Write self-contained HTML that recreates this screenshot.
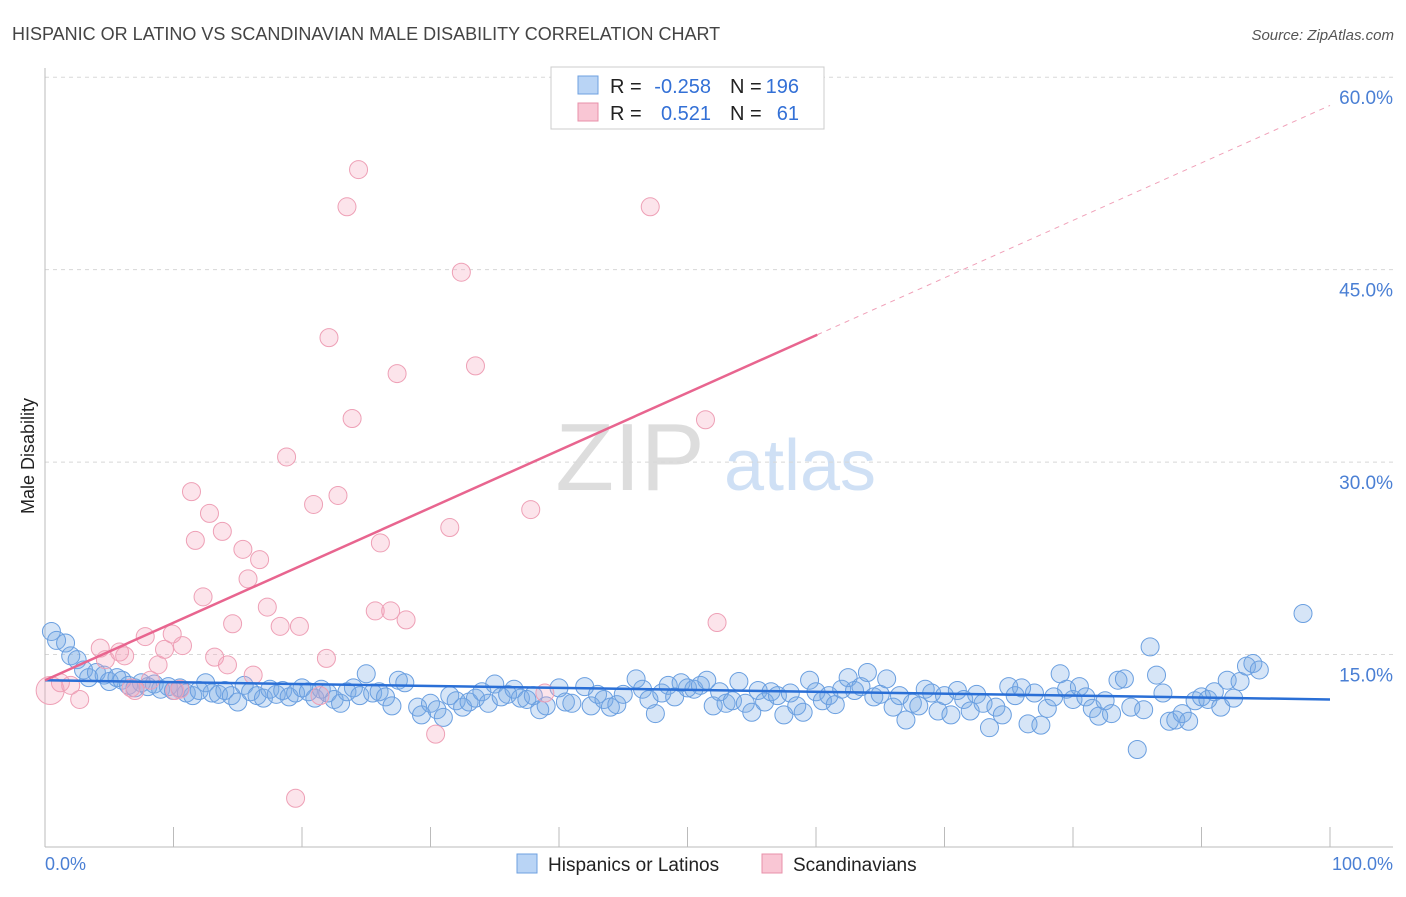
<!DOCTYPE html>
<html><head><meta charset="utf-8"><style>
body{margin:0;background:#fff;font-family:"Liberation Sans",sans-serif;}
svg text{font-family:"Liberation Sans",sans-serif;}
</style></head><body>
<svg id="chart" width="1406" height="892" xmlns="http://www.w3.org/2000/svg">
<text x="12" y="40" font-size="18" fill="#444">HISPANIC OR LATINO VS SCANDINAVIAN MALE DISABILITY CORRELATION CHART</text>
<text x="1394" y="40" font-size="15" fill="#555" text-anchor="end" font-style="italic">Source: ZipAtlas.com</text>
<text x="630" y="490" font-size="96" fill="#ddd" text-anchor="middle" font-family="Liberation Serif,serif">ZIP</text>
<text x="800" y="490" font-size="72" fill="#cfe0f5" text-anchor="middle">atlas</text>
<g id="grid"></g>
<g id="axes"></g>
<g id="pts"></g>
<g id="trends"></g>
<text transform="translate(34,456) rotate(-90)" font-size="18" fill="#222" text-anchor="middle">Male Disability</text>
<text x="45" y="870" font-size="18" fill="#4a7fd4">0.0%</text>
<text x="1393" y="870" font-size="18" fill="#4a7fd4" text-anchor="end">100.0%</text>
<g>
<rect x="551" y="67" width="273" height="62" fill="#fff" stroke="#ccc"/>
<rect x="578" y="76" width="20" height="18" fill="#b9d4f5" stroke="#6ea0e0"/>
<rect x="578" y="103" width="20" height="18" fill="#f9c6d4" stroke="#e890aa"/>
<text x="610" y="93" font-size="20" fill="#222">R =</text>
<text x="711" y="93" font-size="20" fill="#3370d6" text-anchor="end">-0.258</text>
<text x="730" y="93" font-size="20" fill="#222">N =</text>
<text x="799" y="93" font-size="20" fill="#3370d6" text-anchor="end">196</text>
<text x="610" y="120" font-size="20" fill="#222">R =</text>
<text x="711" y="120" font-size="20" fill="#3370d6" text-anchor="end">0.521</text>
<text x="730" y="120" font-size="20" fill="#222">N =</text>
<text x="799" y="120" font-size="20" fill="#3370d6" text-anchor="end">61</text>
</g>
<g>
<rect x="517" y="854" width="20" height="19" fill="#b9d4f5" stroke="#6ea0e0"/>
<text x="548" y="871" font-size="19" fill="#222">Hispanics or Latinos</text>
<rect x="762" y="854" width="20" height="19" fill="#f9c6d4" stroke="#e890aa"/>
<text x="793" y="871" font-size="19" fill="#222">Scandinavians</text>
</g>
</svg>
<script>
const yTicks=[15,30,45,60];
const yTickLabels=["15.0%","30.0%","45.0%","60.0%"];
const xTicks=[0,10,20,30,40,50,60,70,80,90,100];
const blueX=[0.5,0.9,1.6,2,2.5,3,3.4,4,4.6,5,5.6,6,6.5,7,7.5,8,8.5,9,9.6,10,10.5,11,11.5,12,12.5,13,13.5,14,14.5,15,15.5,16,16.5,17,17.5,18,18.5,19,19.5,20,20.5,21,21.5,22,22.5,23,23.5,24,24.5,25,25.5,26,26.5,27,27.5,28,29,29.3,30,30.5,31,31.5,32,32.5,33,33.5,34,34.5,35,35.5,36,36.5,37,37.5,38,38.5,39,40,40.5,41,42,42.5,43,43.5,44,44.5,45,46,46.5,47,47.5,48,48.5,49,49.5,50,50.5,51,51.5,52,52.5,53,53.5,54,54.5,55,55.5,56,56.5,57,57.5,58,58.5,59,59.5,60,60.5,61,61.5,62,62.5,63,63.5,64,64.5,65,65.5,66,66.5,67,67.5,68,68.5,69,69.5,70,70.5,71,71.5,72,72.5,73,73.5,74,74.5,75,75.5,76,76.5,77,77.5,78,78.5,79,79.5,80,80.5,81,81.5,82,82.5,83,83.5,84,84.5,85,85.5,86,86.5,87,87.5,88,88.5,89,89.5,90,90.5,91,91.5,92,92.5,93,93.5,94,94.5,97.9];
const blueY=[16.8,16.1,15.9,14.9,14.6,13.8,13.2,13.6,13.4,12.9,13.2,13.0,12.6,12.4,12.8,12.5,12.7,12.3,12.5,12.2,12.4,12,11.8,12.2,12.8,12,11.9,12.2,11.8,11.3,12.6,12.1,11.8,11.6,12.3,11.9,12.2,11.7,12,12.4,12.1,11.6,12.3,12.0,11.5,11.2,12.1,12.4,11.8,13.5,12.0,12.1,11.7,11.0,13,12.8,10.9,10.3,11.2,10.7,10.1,11.8,11.4,10.9,11.3,11.6,12.1,11.2,12.7,11.7,11.9,12.3,11.6,11.5,11.8,10.7,11,12.4,11.3,11.2,12.5,11.0,11.9,11.5,10.9,11.1,11.9,13.1,12.3,11.5,10.4,12.0,12.6,11.7,12.8,12.4,12.3,12.6,13.0,11.0,12.1,11.2,11.4,12.9,11.2,10.5,12.2,11.3,12.1,11.8,10.3,12.0,11.0,10.5,13.0,12.1,11.4,11.8,11.1,12.3,13.2,12.2,12.5,13.6,11.7,11.9,13.1,10.9,11.8,9.9,11.2,11.0,12.3,12.0,10.6,11.8,10.3,12.2,11.5,10.6,11.9,11.2,9.3,10.9,10.3,12.5,11.8,12.4,9.6,12.0,9.5,10.8,11.7,13.5,12.3,11.5,12.5,11.7,10.8,10.2,11.4,10.4,13.0,13.1,10.9,7.6,10.7,15.6,13.4,12.0,9.8,9.9,10.4,9.8,11.4,11.7,11.5,12.1,10.9,13.0,11.6,12.9,14.1,14.3,13.8,18.2];
const pinkX=[0.4,1.2,2,2.7,4.3,4.7,5.8,6.2,7,7.8,8.8,9.3,9.9,10.7,11.4,11.7,12.3,12.8,13.2,13.8,14.2,14.6,15.4,15.8,16.2,16.7,17.3,18.3,18.8,19.5,19.8,20.9,21.4,21.9,22.1,22.8,23.5,23.9,24.4,25.7,26.1,26.9,27.4,28.1,30.4,31.5,32.4,33.5,37.8,38.9,47.1,51.4,52.3,6.7,8.2,10.1,10.5];
const pinkY=[12.2,12.8,12.6,11.5,15.5,14.6,15.2,14.9,12.2,16.4,14.2,15.4,16.6,15.7,27.7,23.9,19.5,26,14.8,24.6,14.2,17.4,23.2,20.9,13.4,22.4,18.7,17.2,30.4,3.8,17.2,26.7,11.8,14.7,39.7,27.4,49.9,33.4,52.8,18.4,23.7,18.4,36.9,17.7,8.8,24.9,44.8,37.5,26.3,12,49.9,33.3,17.5,12.4,13,12.2,12.3];
const blueTrend=[13.0,11.5];
const pinkTrend=[13.0,57.8];
const pinkSolidEnd=60.1;
const X0=45,X1=1330,Y0=847,YPER=12.83;
const sx=v=>X0+(X1-X0)*v/100, sy=v=>Y0-v*YPER;
const NS="http://www.w3.org/2000/svg";
function mk(parent,tag,attrs){const e=document.createElementNS(NS,tag);for(const k in attrs)e.setAttribute(k,attrs[k]);document.getElementById(parent).appendChild(e);return e;}
yTicks.forEach((t,i)=>{
  const l=mk('grid','line',{x1:45,x2:1393,y1:sy(t),y2:sy(t),stroke:'#d8d8d8','stroke-dasharray':'4,4'});
  
  
  const tx=mk('grid','text',{x:1393,y:sy(t)+27,'font-size':19,fill:'#4a7fd4','text-anchor':'end'});
  tx.textContent=yTickLabels[i];
  
  
});
const ya=mk('axes','line',{x1:45,x2:45,y1:68,y2:847,stroke:'#bbb'});


const xa=mk('axes','line',{x1:45,x2:1393,y1:847,y2:847,stroke:'#bbb'});


xTicks.forEach(t=>{
  const l=mk('axes','line',{x1:sx(t),x2:sx(t),y1:827,y2:847,stroke:'#bbb'});
  
  
});
blueX.forEach((x,i)=>{
  const c=mk('pts','circle',{cx:sx(x),cy:sy(blueY[i]),r:9,fill:'rgba(120,170,230,0.3)',stroke:'#6a9fe0','stroke-width':1});
  
  
});
pinkX.forEach((x,i)=>{
  const c=mk('pts','circle',{cx:sx(x),cy:sy(pinkY[i]),r:i===0?14:9,fill:'rgba(245,165,190,0.3)',stroke:'#eea0b6','stroke-width':1});
  
  
});
const bt=mk('trends','line',{x1:sx(0),y1:sy(blueTrend[0]),x2:sx(100),y2:sy(blueTrend[1]),stroke:'#2a6fd6','stroke-width':2.5});


const pe=pinkTrend[0]+(pinkTrend[1]-pinkTrend[0])*pinkSolidEnd/100;
const pt=mk('trends','line',{x1:sx(0),y1:sy(pinkTrend[0]),x2:sx(pinkSolidEnd),y2:sy(pe),stroke:'#e8658f','stroke-width':2.5});


const pd=mk('trends','line',{x1:sx(pinkSolidEnd),y1:sy(pe),x2:sx(100),y2:sy(pinkTrend[1]),stroke:'#f0a0b8','stroke-width':1,'stroke-dasharray':'5,5'});


</script>
</body></html>
